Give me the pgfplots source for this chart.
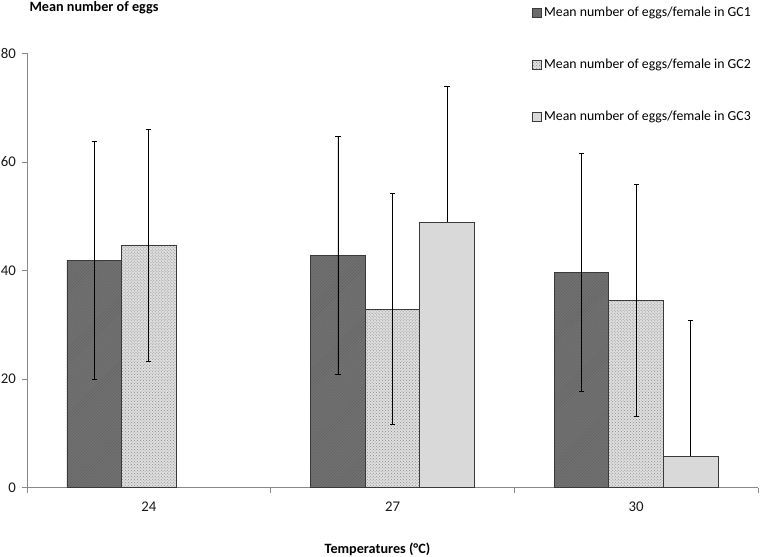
\documentclass[border=0pt]{standalone}
\usepackage{fontspec}
\setmainfont{Carlito}
\usepackage{pgfplots}
\pgfplotsset{compat=1.18}
\usetikzlibrary{patterns}
\definecolor{axisgray}{HTML}{888888}
\definecolor{gcone}{HTML}{727272}
\definecolor{gctwo}{HTML}{DEDEDE}
\definecolor{gcthree}{HTML}{D9D9D9}
\definecolor{edge}{HTML}{3A3A3A}
\newcommand{\legfont}{\fontsize{13.8bp}{16bp}\selectfont}
\newcommand{\tickfont}{\fontsize{14.8bp}{17bp}\selectfont}
\newcommand{\labfont}{\fontsize{14.2bp}{16bp}\selectfont}
\begin{document}
\begin{tikzpicture}[font=\tickfont]
\path[use as bounding box] (-27bp,-69.3bp) rectangle (733bp,487.7bp);
\begin{axis}[
  at={(0,0)}, anchor=south west,
  scale only axis, width=731bp, height=434.4bp,
  xmin=-0.5, xmax=2.5, ymin=0, ymax=80,
  enlargelimits=false,
  axis x line*=bottom, axis y line*=left,
  axis line style={axisgray, line width=0.8pt},
  ybar, bar width=0.224,
  xtick={-0.5,0.5,1.5,2.5}, xticklabels={},
  extra x ticks={0,1,2}, extra x tick labels={24,27,30},
  extra x tick style={major tick length=0pt},
  xticklabel style={yshift=-11bp},
  ytick={0,20,40,60,80},
  tick align=outside, major tick length=5bp,
  tick style={axisgray, line width=0.8pt},
  yticklabel style={xshift=-2.5bp},
  /pgf/number format/assume math mode=true,
  tick label style={font=\tickfont, text=black!90},
  legend image code/.code={\draw[#1] (0bp,-4.5bp) rectangle (9bp,4.5bp);},
  legend style={draw=none, fill=none, at={(axis description cs:0.691,1.111)}, anchor=north west,
    row sep=37bp, inner sep=0pt, font=\legfont,
    /tikz/every even column/.append style={column sep=1bp}},
  legend cell align=left,
  error bars/error bar style={black, line width=0.8pt},
  error bars/error mark options={rotate=90, black, mark size=2.6bp, line width=0.8pt},
]
\addplot[bar shift=-0.224, fill=gcone, draw=edge, line width=0.8pt,
  postaction={pattern=north east lines, pattern color=gcone!85!black},
  error bars/.cd, y dir=both, y explicit]
  coordinates {(0,41.9) +- (0,21.9) (1,42.8) +- (0,21.9) (2,39.7) +- (0,21.9)};
\addlegendentry{Mean number of eggs/female in GC1}
\addplot[bar shift=0, fill=gctwo, draw=edge, line width=0.8pt,
  postaction={pattern=crosshatch dots, pattern color=gray!90},
  error bars/.cd, y dir=both, y explicit]
  coordinates {(0,44.6) +- (0,21.3) (1,32.9) +- (0,21.3) (2,34.5) +- (0,21.3)};
\addlegendentry{Mean number of eggs/female in GC2}
\addplot[bar shift=0.224, fill=gcthree, draw=edge, line width=0.8pt,
  error bars/.cd, y dir=plus, y explicit]
  coordinates {(1,48.9) +- (0,25.0) (2,5.8) +- (0,25.0)};
\addlegendentry{Mean number of eggs/female in GC3}
\end{axis}
\node[font=\bfseries\labfont] at (67bp,479.5bp) {Mean number of eggs};
\node[font=\bfseries\labfont] at (350.5bp,-61.3bp) {Temperatures (°C)};
\end{tikzpicture}
\end{document}
